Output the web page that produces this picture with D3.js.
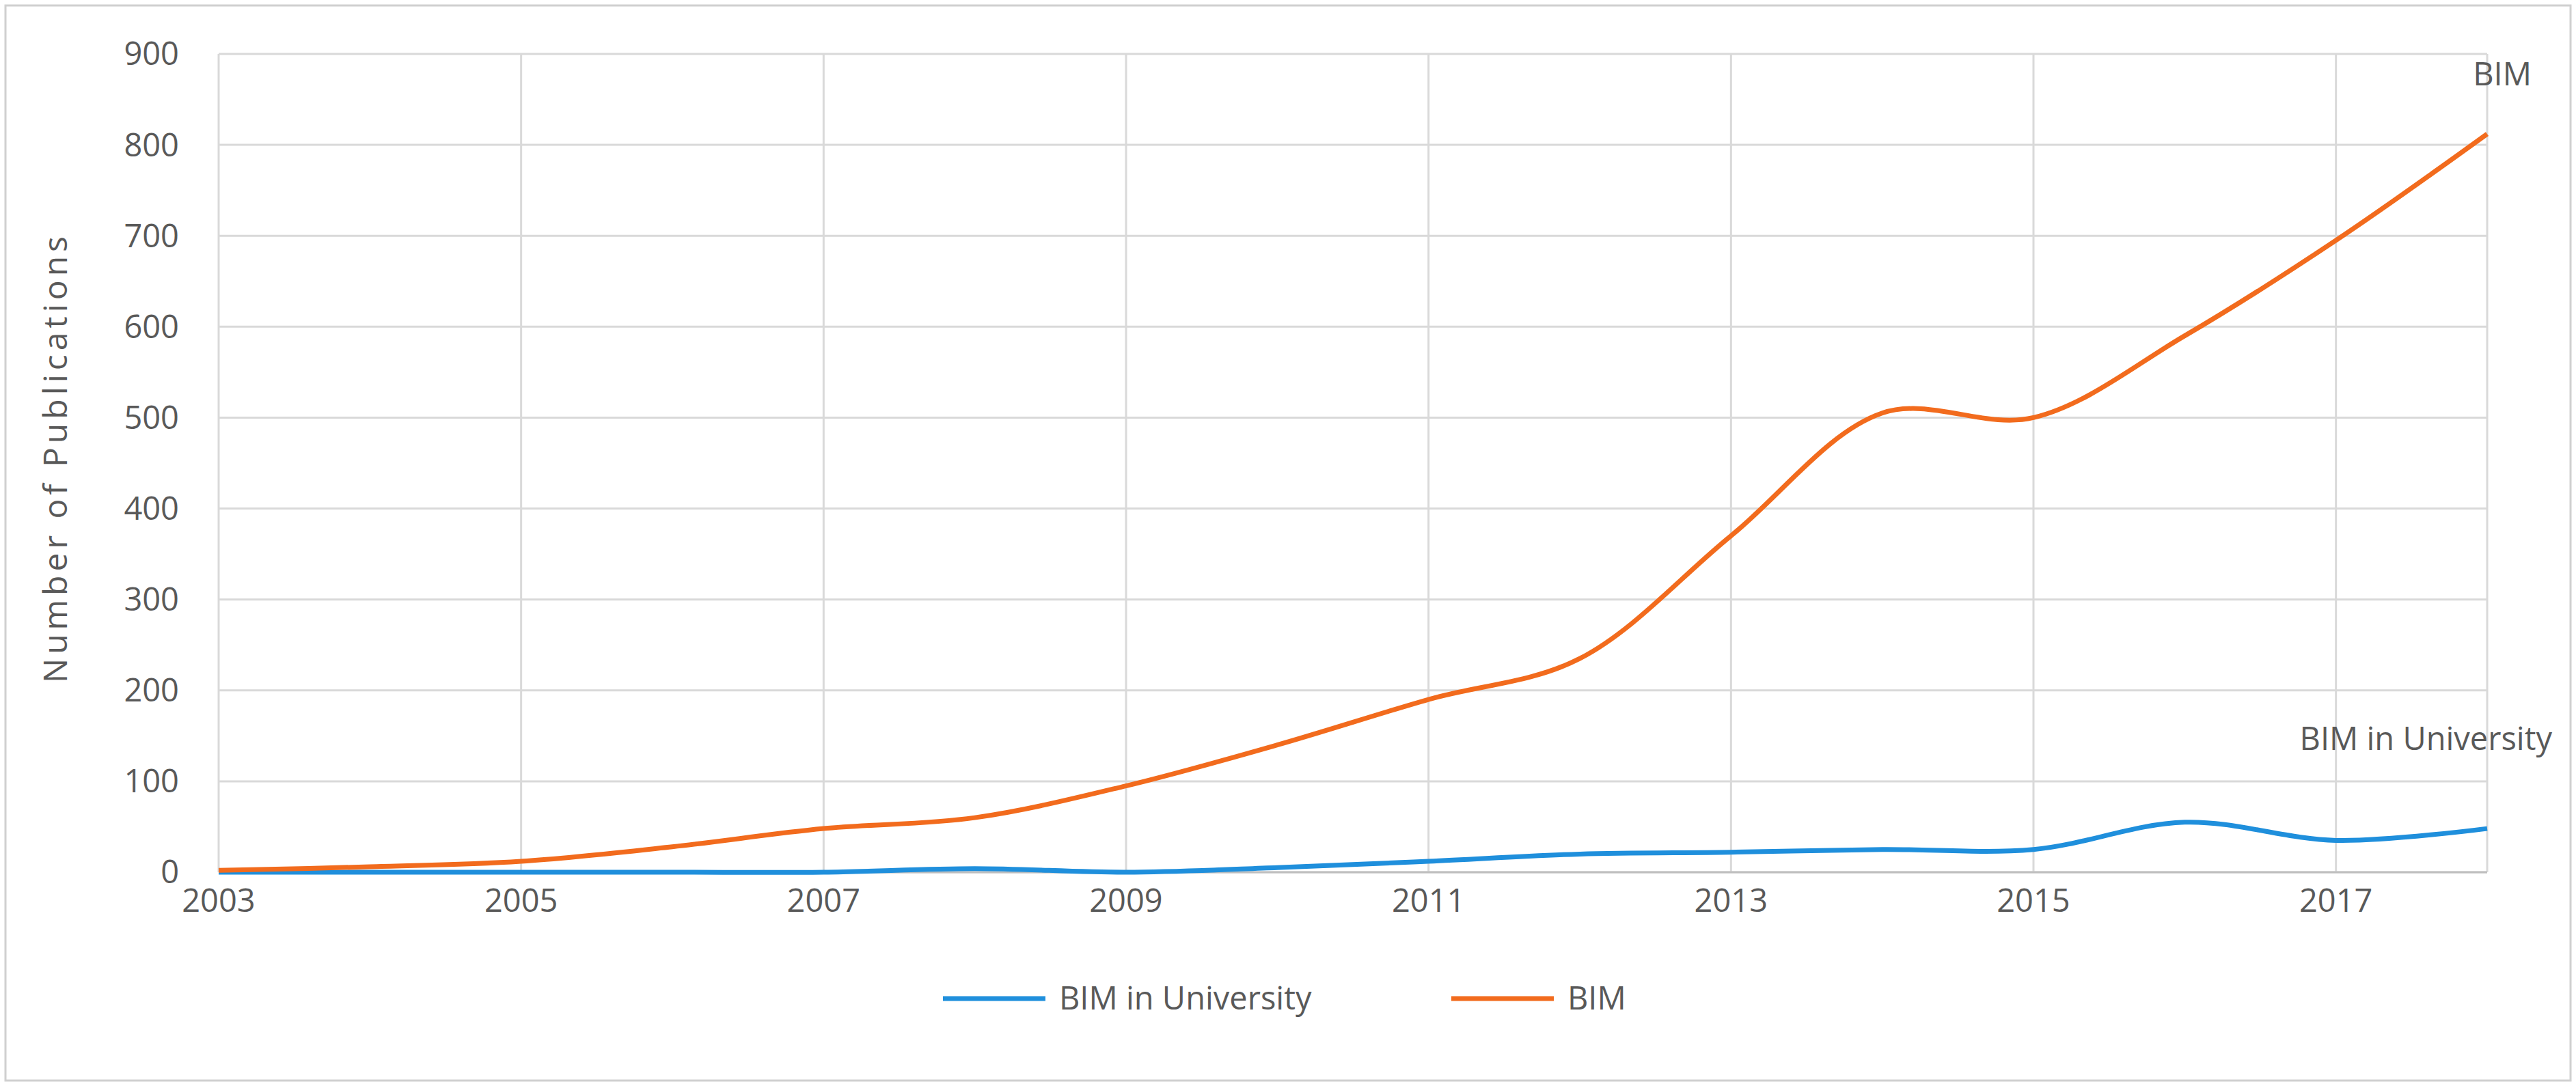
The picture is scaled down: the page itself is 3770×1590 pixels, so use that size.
<!DOCTYPE html>
<html><head><meta charset="utf-8">
<script src="https://cdn.jsdelivr.net/npm/d3@7"></script>
<style>body{margin:0;background:#fff}svg{display:block}</style></head>
<body><svg id="c" width="3770" height="1590"></svg>
<script>
const years=[2003,2004,2005,2006,2007,2008,2009,2010,2011,2012,2013,2014,2015,2016,2017,2018];
const bim=[2,6,12,28,48,60,95,140,190,235,370,505,500,590,695,812];
const univ=[0,0,0,0,0,4,0,5,12,20,22,25,25,55,35,48];
const yTicks=[0,100,200,300,400,500,600,700,800,900];
const xTicks=[2003,2005,2007,2009,2011,2013,2015,2017];
const svg=d3.select("#c");
const font="'Open Sans', 'Liberation Sans', sans-serif", grey="#595959";
svg.append("rect").attr("x",8).attr("y",8).attr("width",3754).attr("height",1574).attr("fill","none").attr("stroke","#d0d0d0").attr("stroke-width",3);
const x=d3.scaleLinear().domain([2003,2018]).range([320,3640]);
const y=d3.scaleLinear().domain([0,900]).range([1277,79]);
const g=svg.append("g");
g.selectAll(".hg").data(yTicks).join("line").attr("x1",320).attr("x2",3640).attr("y1",d=>y(d)).attr("y2",d=>y(d)).attr("stroke","#d9d9d9").attr("stroke-width",3);
g.selectAll(".vg").data(xTicks.concat([2018])).join("line").attr("x1",d=>x(d)).attr("x2",d=>x(d)).attr("y1",79).attr("y2",1277).attr("stroke","#d9d9d9").attr("stroke-width",3);
g.append("line").attr("x1",320).attr("x2",3640).attr("y1",y(0)).attr("y2",y(0)).attr("stroke","#bfbfbf").attr("stroke-width",3);
g.selectAll(".yl").data(yTicks).join("text").attr("x",262).attr("y",d=>y(d)).attr("dy","0.35em").attr("text-anchor","end").attr("font-family",font).attr("font-size",47).attr("fill",grey).text(d=>d);
g.selectAll(".xl").data(xTicks).join("text").attr("x",d=>x(d)).attr("y",1335).attr("text-anchor","middle").attr("font-family",font).attr("font-size",47).attr("fill",grey).text(d=>d);
svg.append("text").attr("transform","translate(98,670) rotate(-90)").attr("text-anchor","middle").attr("font-family",font).attr("font-size",48).attr("fill",grey).attr("letter-spacing",6).text("Number  of Publications");
const line=arr=>d3.line().x((d,i)=>x(years[i])).y(d=>y(d)).curve(d3.curveCatmullRom.alpha(0.5))(arr);
svg.append("path").attr("d",line(univ)).attr("fill","none").attr("stroke","#1f8fdc").attr("stroke-width",7);
svg.append("path").attr("d",line(bim)).attr("fill","none").attr("stroke","#f26b1d").attr("stroke-width",7);
svg.append("text").attr("x",3705).attr("y",125).attr("text-anchor","end").attr("font-family",font).attr("font-size",47).attr("fill",grey).text("BIM");
svg.append("text").attr("x",3735).attr("y",1098).attr("text-anchor","end").attr("font-family",font).attr("font-size",47).attr("fill",grey).text("BIM in University");
const leg=[{n:"BIM in University",c:"#1f8fdc",x:1380},{n:"BIM",c:"#f26b1d",x:2124}];
leg.forEach(l=>{svg.append("line").attr("x1",l.x).attr("x2",l.x+150).attr("y1",1462).attr("y2",1462).attr("stroke",l.c).attr("stroke-width",7);
svg.append("text").attr("x",l.x+170).attr("y",1462).attr("dy","0.35em").attr("font-family",font).attr("font-size",47).attr("fill",grey).text(l.n);});
</script></body></html>
